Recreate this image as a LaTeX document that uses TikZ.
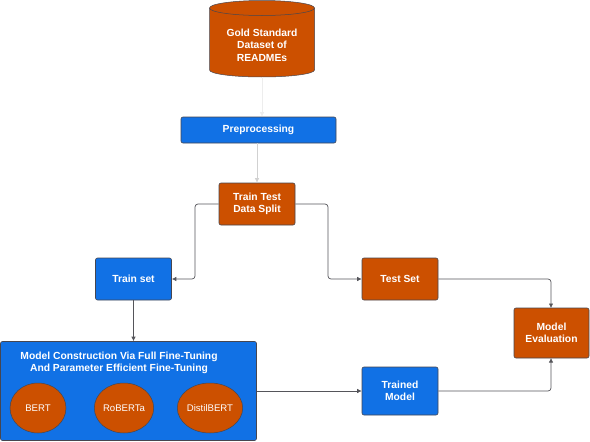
\documentclass[tikz,border=0pt]{standalone}
\usepackage{fontspec}
\setmainfont{Liberation Sans}
\usetikzlibrary{arrows.meta,shapes.geometric}
\definecolor{orng}{RGB}{204,80,0}
\definecolor{blu}{RGB}{17,113,229}
\definecolor{edge}{RGB}{70,70,80}
\definecolor{conn}{RGB}{85,85,90}
\tikzset{
  box/.style={draw=edge, line width=0.6pt, rounded corners=2pt, text=white, align=center,
    font=\fontsize{10.3}{12.5}\selectfont\bfseries, inner sep=0pt},
  obox/.style={box, fill=orng},
  bbox/.style={box, fill=blu},
  oval/.style={ellipse, draw=edge, line width=0.5pt, fill=orng, text=white, inner sep=0pt,
    font=\fontsize{9.6}{12}\selectfont},
  conn/.style={draw=conn, line width=0.7pt, rounded corners=3pt, -{Latex[length=4.5pt,width=4.5pt]}},
  faint/.style={conn, draw=black!18},
  fainter/.style={conn, draw=black!7}
}
\begin{document}
\begin{tikzpicture}[x=1pt,y=-1pt]
\useasboundingbox (0,0) rectangle (590,442);
% cylinder
\node[minimum width=105pt, minimum height=77pt, inner sep=0pt] (gold) at (262,38.5) {};
\fill[orng, draw=edge, line width=0.5pt] (209.5,8) -- (209.5,70) arc[start angle=180,end angle=360,x radius=52.5pt,y radius=7pt] -- (314.5,8) arc[start angle=0,end angle=180,x radius=52.5pt,y radius=7.5pt] -- cycle;
\draw[edge, line width=0.5pt] (209.5,8) arc[start angle=180,end angle=360,x radius=52.5pt,y radius=7.5pt];
\node[text=white, align=center, font=\fontsize{10.3}{12.5}\selectfont\bfseries] (goldtxt) at (262,45) {Gold Standard\\Dataset of\\READMEs};
\node[bbox, minimum width=155pt, minimum height=26pt] (prep) at (258.5,130) {Preprocessing};
\node[obox, minimum width=76pt, minimum height=42pt] (split) at (257,204) {Train Test\\Data Split};
\node[bbox, minimum width=76pt, minimum height=42pt] (train) at (133.5,279) {Train set};
\node[obox, minimum width=76pt, minimum height=42pt] (test) at (400,279) {Test Set};
\node[obox, minimum width=75pt, minimum height=50pt] (eval) at (551.5,333) {Model\\Evaluation};
\node[bbox, minimum width=76pt, minimum height=48pt] (trained) at (400,391) {Trained\\Model};
\node[bbox, minimum width=256pt, minimum height=99pt] (big) at (128.5,391) {};
\node[text=white, align=center, font=\fontsize{10.3}{12}\selectfont\bfseries] (title) at (119,363) {Model Construction Via Full Fine-Tuning\\And Parameter Efficient Fine-Tuning};
\node[oval, minimum width=56pt, minimum height=50pt] (bert) at (38,408) {BERT};
\node[oval, minimum width=56pt, minimum height=50pt] (roberta) at (124,408) {RoBERTa};
\node[oval, minimum width=56pt, minimum height=50pt] (distil) at (210,408) {DistilBERT};
% connectors
\draw[fainter] (gold.south) -- (gold.south |- prep.north);
\draw[faint] (prep.south -| split.north) -- (split.north);
\draw[conn] (split.west) -- (195,204) -- (195,279) -- (train.east);
\draw[conn] (split.east) -- (328,204) -- (328,279) -- (test.west);
\draw[conn] (train.south) -- (train.south |- big.north);
\draw[conn] (big.east) -- (trained.west);
\draw[conn] (test.east) -- (551,279) -- (551,308);
\draw[conn] (trained.east) -- (551,391) -- (551,358);
\end{tikzpicture}
\end{document}
